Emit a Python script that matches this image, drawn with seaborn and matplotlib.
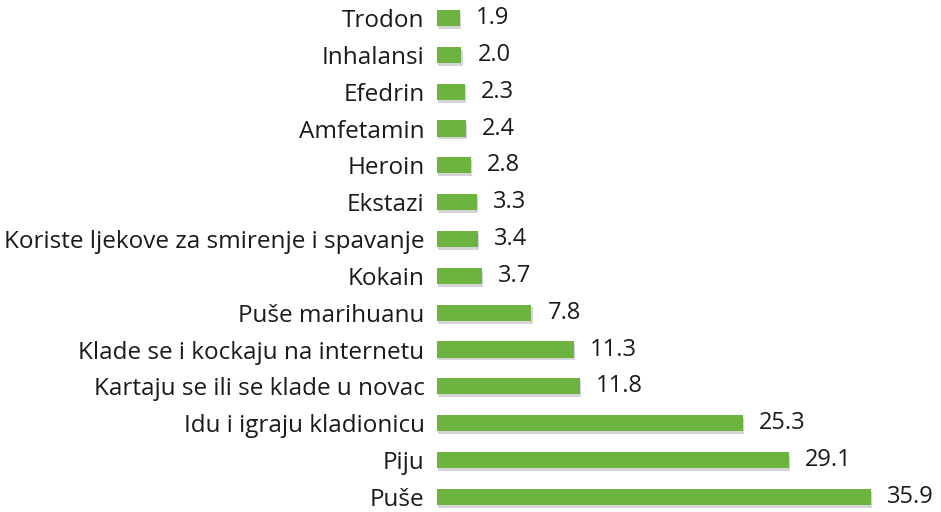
import matplotlib
matplotlib.use("Agg")
import matplotlib.pyplot as plt
import matplotlib.patheffects as pe
import seaborn as sns
import pandas as pd

categories = ["Trodon", "Inhalansi", "Efedrin", "Amfetamin", "Heroin", "Ekstazi",
              "Koriste ljekove za smirenje i spavanje", "Kokain", "Puše marihuanu",
              "Klade se i kockaju na internetu", "Kartaju se ili se klade u novac",
              "Idu i igraju kladionicu", "Piju", "Puše"]
values = [1.9, 2.0, 2.3, 2.4, 2.8, 3.3, 3.4, 3.7, 7.8, 11.3, 11.8, 25.3, 29.1, 35.9]

df = pd.DataFrame({"cat": categories, "val": values})

sns.set_theme(style="white")
plt.rcParams["font.family"] = ["Open Sans", "DejaVu Sans"]

fig = plt.figure(figsize=(9.41, 5.12), dpi=100)
ax = fig.add_axes([437 / 941, 0, 504 / 941, 1])

sns.barplot(data=df, x="val", y="cat", color="#6db33f", saturation=1,
            width=0.44, ax=ax, order=categories)

for p in ax.patches:
    p.set_path_effects([pe.SimplePatchShadow(offset=(1.0, -2.0), shadow_rgbFace="#888888", alpha=0.35),
                        pe.Normal()])
    p.set_edgecolor("none")

ax.set_xlim(0, 504 / 12.09)
ax.set_ylim(13.41, -0.49)

for i, v in enumerate(values):
    ax.text(v + 1.35, i, f"{v:.1f}", va="center", ha="left", fontsize=17, color="#1a1a1a")

ax.set_xlabel("")
ax.set_ylabel("")
ax.set_xticks([])
ax.tick_params(axis="y", length=0, pad=9, labelsize=17.5, labelcolor="#1a1a1a")
for s in ax.spines.values():
    s.set_visible(False)

fig.savefig("out.png", dpi=100)
